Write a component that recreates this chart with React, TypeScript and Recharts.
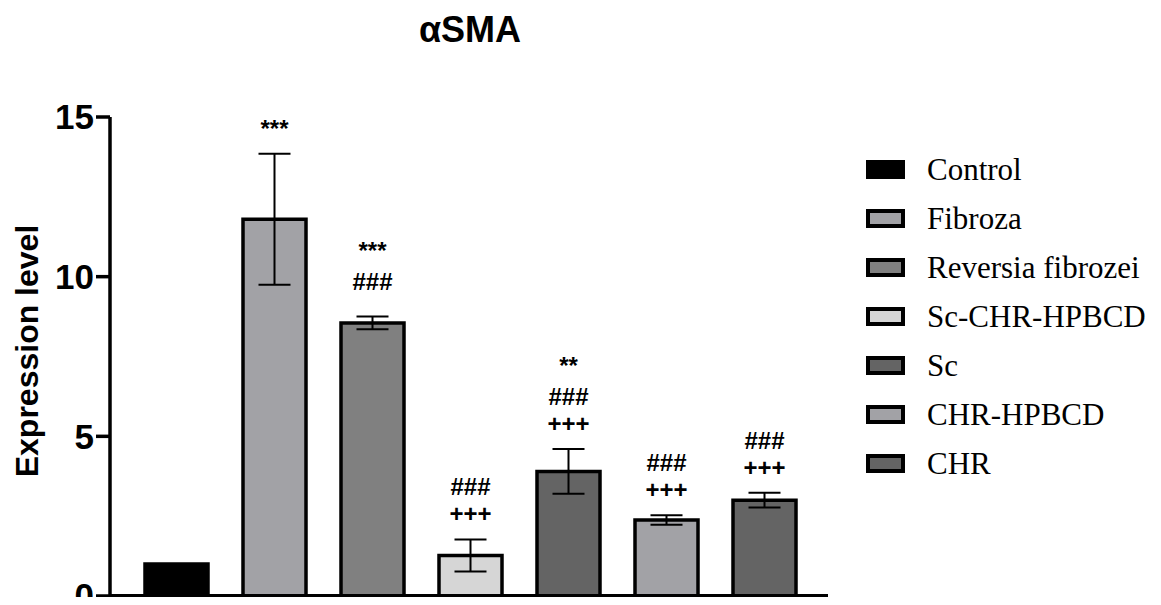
import {} from 'react';
import { ComposedChart, Bar, Cell, XAxis, YAxis, ErrorBar, LabelList } from 'recharts';

const groups = ['Control', 'Fibroza', 'Reversia fibrozei', 'Sc-CHR-HPBCD', 'Sc', 'CHR-HPBCD', 'CHR'];
const means = [1.0, 11.8, 8.55, 1.27, 3.9, 2.38, 3.0];
const errors = [0, 2.05, 0.2, 0.5, 0.7, 0.15, 0.23];
const marks = [[], ['***'], ['***', '###'], ['###', '+++'], ['**', '###', '+++'], ['###', '+++'], ['###', '+++']];
const fills = ['#000000', '#a2a2a6', '#808080', '#d6d6d6', '#646464', '#a2a2a6', '#646464'];
const yTicks = [0, 5, 10, 15];

const data = groups.map((name, i) => ({ name, value: means[i], err: errors[i] }));

const sans = '"Liberation Sans", Arial, sans-serif';
const serif = '"Liberation Serif", "Times New Roman", serif';

// significance marks stacked above each error bar
const renderMarks = (props: any) => {
  const { x, y, width, height, index } = props;
  const lines: string[] = marks[index];
  if (!lines || !lines.length) return null;
  const perUnit = height / means[index];
  const top = y - errors[index] * perUnit;
  const cx = x + width / 2;
  const last = lines[lines.length - 1];
  let base = top - (last === '###' ? 27 : 17);
  const out: any[] = [];
  for (let i = lines.length - 1; i >= 0; i--) {
    out.push(
      <text key={i} x={cx} y={base} textAnchor="middle" fontSize={24} fontWeight="bold" fontFamily={sans} fill="#000">
        {lines[i]}
      </text>
    );
    base -= i > 0 && lines[i - 1].includes('*') ? 31 : 27;
  }
  return <g>{out}</g>;
};

const yLabel = () => (
  <text
    x={27}
    y={351}
    transform="rotate(-90 27 351)"
    textAnchor="middle"
    dominantBaseline="central"
    fontSize={32}
    fontWeight="bold"
    fontFamily={sans}
    fill="#000"
  >
    Expression level
  </text>
);

export default function App() {
  return (
    <div style={{ position: 'relative', width: 1161, height: 605, margin: -8, background: '#fff' }}>
      <div
        style={{
          position: 'absolute',
          left: 320,
          width: 300,
          top: 9,
          textAlign: 'center',
          fontFamily: sans,
          fontWeight: 'bold',
          fontSize: 36,
          lineHeight: 'normal',
          color: '#000'
        }}
      >
        αSMA
      </div>
      <ComposedChart width={1161} height={605} data={data} margin={{ top: 117, right: 333, bottom: 8, left: 0 }}>
        <XAxis dataKey="name" tick={false} tickLine={false} height={1} padding={{ left: 17, right: 15 }} axisLine={{ stroke: '#000', strokeWidth: 4 }} />
        <YAxis
          width={110}
          domain={[0, 15]}
          ticks={yTicks}
          interval={0}
          tickSize={14}
          tickMargin={2}
          axisLine={{ stroke: '#000', strokeWidth: 3.5 }}
          tickLine={{ stroke: '#000', strokeWidth: 3.5 }}
          tick={{ fill: '#000', fontSize: 35, fontWeight: 'bold', fontFamily: sans }}
          label={yLabel}
        />
        <Bar dataKey="value" barSize={63} stroke="#000" strokeWidth={3.5} isAnimationActive={false}>
          {data.map((d, i) => (
            <Cell key={d.name} fill={fills[i]} />
          ))}
          <ErrorBar dataKey="err" width={16} stroke="#000" strokeWidth={2} />
          <LabelList dataKey="value" content={renderMarks} />
        </Bar>
      </ComposedChart>
      <div style={{ position: 'absolute', left: 866, top: 145 }}>
        {groups.map((g, i) => (
          <div key={g} style={{ display: 'flex', alignItems: 'center', height: 49 }}>
            <div style={{ width: 39, height: 19, boxSizing: 'border-box', border: '4px solid #000', background: fills[i] }} />
            <div style={{ marginLeft: 22, fontFamily: serif, fontSize: 31, color: '#000', whiteSpace: 'nowrap' }}>{g}</div>
          </div>
        ))}
      </div>
    </div>
  );
}
